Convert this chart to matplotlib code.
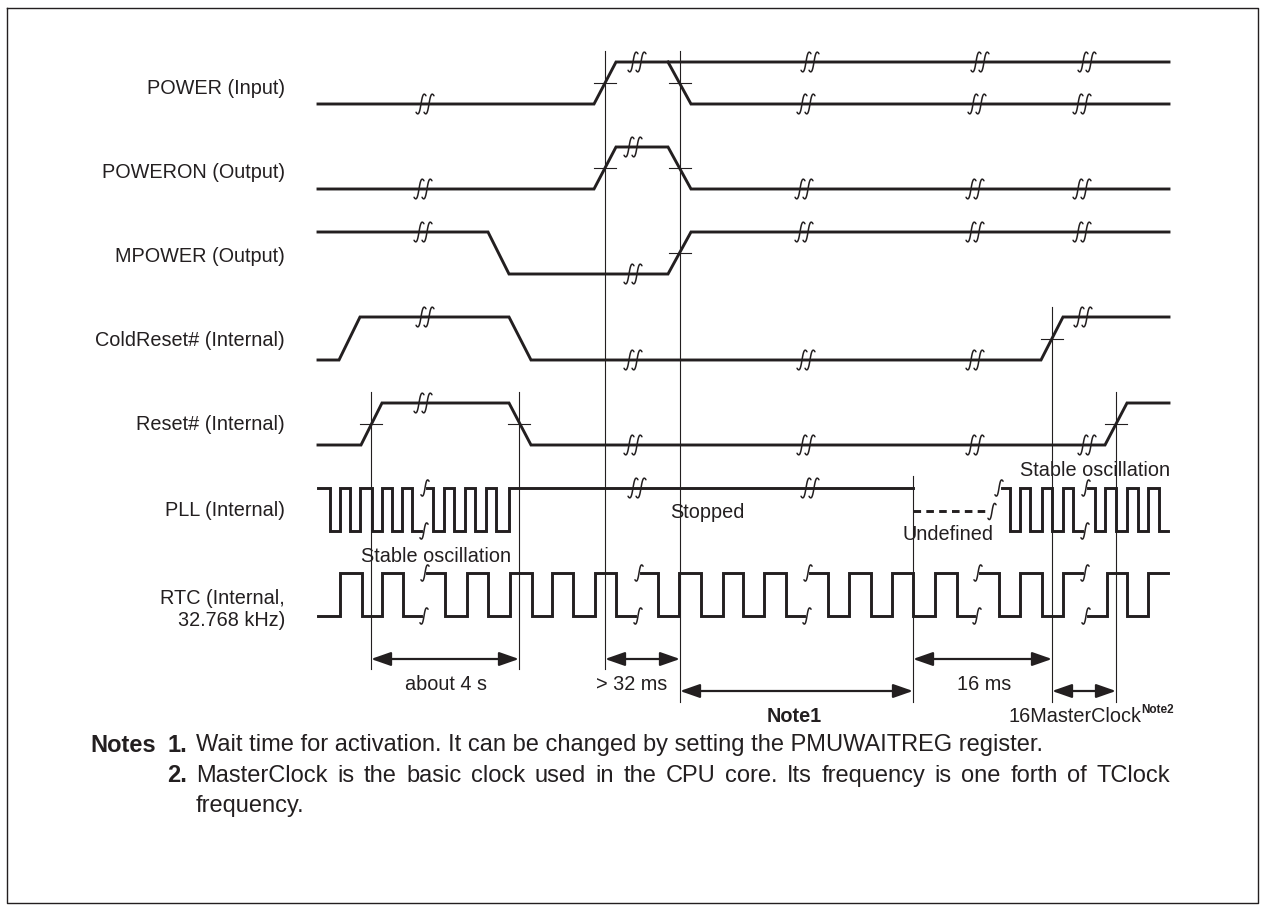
import numpy as np
import matplotlib
matplotlib.use("Agg")
import matplotlib.pyplot as plt

plt.rcParams['font.family'] = ['Liberation Sans', 'DejaVu Sans']

# ---------------- data (timing positions in px along the time axis) ----------------
signal_labels = ["POWER (Input)", "POWERON (Output)", "MPOWER (Output)",
                 "ColdReset# (Internal)", "Reset# (Internal)", "PLL (Internal)"]
rtc_label = ["RTC (Internal,", "32.768 kHz)"]
label_y = [88, 172, 256, 341, 425, 510]
rtc_label_y = [598, 620]
row_high = [62, 147, 232, 317, 403, 488, 573]
row_low = [104, 189, 274, 360, 445, 531, 616]

# level signals: time points and logic levels (0 = low, 1 = high)
power_t = [318, 594, 616, 1169]
power_lvl = [0, 0, 1, 1]
power_alt_t = [668, 691, 1169]
power_alt_lvl = [1, 0, 0]
poweron_t = [318, 594, 616, 668, 691, 1169]
poweron_lvl = [0, 0, 1, 1, 0, 0]
mpower_t = [318, 488, 509, 668, 691, 1169]
mpower_lvl = [1, 1, 0, 0, 1, 1]
coldreset_t = [318, 339, 360, 509, 531, 1041, 1063, 1169]
coldreset_lvl = [0, 0, 1, 1, 0, 0, 1, 1]
reset_t = [318, 361, 382, 509, 531, 1105, 1127, 1169]
reset_lvl = [0, 0, 1, 1, 0, 0, 1, 1]

# time-axis breaks (//) on level signals: (time, level)
power_breaks = [(425, 0), (637, 1), (810, 1), (980, 1), (1087, 1), (806, 0), (977, 0), (1082, 0)]
poweron_breaks = [(423, 0), (633, 1), (804, 0), (975, 0), (1082, 0)]
mpower_breaks = [(423, 1), (633, 0), (804, 1), (975, 1), (1082, 1)]
coldreset_breaks = [(425, 1), (633, 0), (806, 0), (975, 0), (1083, 1)]
reset_breaks = [(423, 1), (633, 0), (806, 0), (975, 0), (1087, 0)]

# clocks: edges and breaks
pll1_start, pll1_end, pll1_lvl0 = 318, 913, 1
pll1_edges = [330, 340, 350, 360, 372, 382, 392, 402, 412, 433, 444, 454, 465, 475, 486, 496, 509]
pll1_breaks = [424]
pll_stop_breaks = [637, 810]
pll_undef = [913, 990]
pll2_start, pll2_end, pll2_lvl0 = 1002, 1168, 1
pll2_edges = [1010, 1020, 1030, 1042, 1052, 1063, 1073, 1095, 1105, 1116, 1127, 1138, 1148, 1159]
pll2_breaks = [1085]

rtc_start, rtc_end, rtc_lvl0 = 318, 1168, 0
rtc_edges = [340, 362, 382, 403, 445, 467, 488, 510, 532, 552, 573, 595, 616,
             658, 679, 701, 723, 743, 764, 786, 828, 849, 871, 892, 913, 935, 957,
             999, 1020, 1042, 1063, 1107, 1127, 1148]
rtc_breaks = [424, 638, 807, 977, 1085]

# reference vertical lines
vline_x = [371, 519, 605, 680, 913, 1052, 1116]
vline_top = [392, 392, 51, 51, 476, 307, 392]
vline_bot = [669, 669, 669, 702, 702, 702, 702]
# crossing ticks: (time, row index)
cross_pts = [(605, 0), (680, 0), (605, 1), (680, 1), (680, 2), (1052, 3), (371, 4), (519, 4), (1116, 4)]

# dimension arrows
arrows = [(371, 519, 659), (605, 680, 659), (680, 913, 691), (913, 1052, 659), (1052, 1116, 691)]
arrow_labels = [("about 4 s", 446, 684, 'normal'), ("> 32 ms", 632, 684, 'normal'),
                ("Note1", 794, 717, 'bold'), ("16 ms", 984, 684, 'normal')]

note1_text = "Wait time for activation. It can be changed by setting the PMUWAITREG register."
note2_line1 = "MasterClock is the basic clock used in the CPU core.  Its frequency is one forth of TClock"
note2_line2 = "frequency."

INK = '#231f20'
FS = 14.3
FS_NOTES = 17.0
SIG_LW = 2.1

fig = plt.figure(figsize=(12.65, 9.11), dpi=100)
ax = fig.add_axes([0, 0, 1, 1])
ax.set_xlim(0, 1265)
ax.set_ylim(911, 0)
ax.axis('off')

# frame
ax.plot([7, 1258, 1258, 7, 7], [8, 8, 903, 903, 8], color=INK, lw=1.0)


def integral(xc, yc, h=9.0, lw=1.1):
    t = np.linspace(0, 1, 40)[:, None]
    P = np.array([[xc - 0.45 * h, yc + 0.75 * h], [xc + 0.05 * h, yc + 1.6 * h],
                  [xc - 0.05 * h, yc - 1.6 * h], [xc + 0.45 * h, yc - 0.75 * h]])
    B = ((1 - t) ** 3) * P[0] + 3 * ((1 - t) ** 2) * t * P[1] + 3 * (1 - t) * t ** 2 * P[2] + t ** 3 * P[3]
    ax.plot(B[:, 0], B[:, 1], color=INK, lw=lw, solid_capstyle='round', zorder=4)


def double_break(x, y):
    integral(x - 4, y, h=11)
    integral(x + 4, y, h=11)


def yl(row, lvl):
    return row_low[row] - lvl * (row_low[row] - row_high[row])


def level_signal(row, ts, lv):
    ax.plot(ts, [yl(row, v) for v in lv], color=INK, lw=SIG_LW, solid_joinstyle='miter', zorder=3)


def clock(row, start, end, lvl0, edges, breaks, gap=3):
    events = sorted([(e, 0) for e in edges] + [(b, 1) for b in breaks])
    lvl = lvl0
    xs, ys = [start], [yl(row, lvl)]
    for x, kind in events:
        if kind == 0:
            xs += [x, x]
            ys += [yl(row, lvl), yl(row, 1 - lvl)]
            lvl = 1 - lvl
        else:
            xs.append(x - gap); ys.append(yl(row, lvl))
            ax.plot(xs, ys, color=INK, lw=SIG_LW, solid_joinstyle='miter', zorder=3)
            integral(x, yl(row, lvl))
            lvl = 1 - lvl
            integral(x + 1, yl(row, lvl))
            xs, ys = [x + gap], [yl(row, lvl)]
    xs.append(end); ys.append(yl(row, lvl))
    ax.plot(xs, ys, color=INK, lw=SIG_LW, solid_joinstyle='miter', zorder=3)


# level signals
level_signal(0, power_t, power_lvl)
level_signal(0, power_alt_t, power_alt_lvl)
level_signal(1, poweron_t, poweron_lvl)
level_signal(2, mpower_t, mpower_lvl)
level_signal(3, coldreset_t, coldreset_lvl)
level_signal(4, reset_t, reset_lvl)
for row, brks in enumerate([power_breaks, poweron_breaks, mpower_breaks, coldreset_breaks, reset_breaks]):
    for x, lv in brks:
        double_break(x, yl(row, lv))

# PLL
clock(5, pll1_start, pll1_end, pll1_lvl0, pll1_edges, pll1_breaks)
for x in pll_stop_breaks:
    double_break(x, yl(5, 1))
ymid = (row_high[5] + row_low[5]) / 2
ax.plot(pll_undef, [ymid + 1, ymid + 1], color=INK, lw=SIG_LW, ls=(0, (2.6, 1.8)), zorder=3)
integral(pll_undef[1] + 2, ymid + 2)
integral(pll2_start - 3, yl(5, 1))
clock(5, pll2_start, pll2_end, pll2_lvl0, pll2_edges, pll2_breaks)

# RTC
clock(6, rtc_start, rtc_end, rtc_lvl0, rtc_edges, rtc_breaks)

# vertical reference lines
for x, t0, t1 in zip(vline_x, vline_top, vline_bot):
    ax.plot([x, x], [t0, t1], color=INK, lw=0.8, zorder=2)
for x, row in cross_pts:
    ym = (row_high[row] + row_low[row]) / 2
    ax.plot([x - 11, x + 11], [ym, ym], color=INK, lw=0.8, zorder=2)

# arrows
for x0, x1, y in arrows:
    ax.annotate('', xy=(x1, y), xytext=(x0, y),
                arrowprops=dict(arrowstyle='<|-|>,head_length=1.2,head_width=0.42',
                                color=INK, lw=1.6, shrinkA=0, shrinkB=0, mutation_scale=10))
for txt, x, y, w in arrow_labels:
    ax.text(x, y, txt, ha='center', va='center', fontsize=FS, color=INK, weight=w)
mc = ax.text(1009, 717, "16MasterClock", ha='left', va='center', fontsize=FS, color=INK)

# signal labels
for txt, y in zip(signal_labels, label_y):
    ax.text(285, y, txt, ha='right', va='center', fontsize=FS, color=INK)
for txt, y in zip(rtc_label, rtc_label_y):
    ax.text(285, y, txt, ha='right', va='center', fontsize=FS, color=INK)

# in-diagram annotations
ax.text(361, 556, "Stable oscillation", ha='left', va='center', fontsize=FS, color=INK)
ax.text(1020, 470, "Stable oscillation", ha='left', va='center', fontsize=FS, color=INK)
ax.text(670, 513, "Stopped", ha='left', va='center', fontsize=FS, color=INK)
ax.text(903, 535, "Undefined", ha='left', va='center', fontsize=FS, color=INK)

# notes
ax.text(90, 745, "Notes", ha='left', va='center', fontsize=FS_NOTES, color=INK, weight='bold')
ax.text(187, 745, "1.", ha='right', va='center', fontsize=FS_NOTES, color=INK, weight='bold')
ax.text(196, 745, note1_text, ha='left', va='center', fontsize=FS_NOTES, color=INK)
ax.text(187, 776, "2.", ha='right', va='center', fontsize=FS_NOTES, color=INK, weight='bold')
ax.text(196, 806, note2_line2, ha='left', va='center', fontsize=FS_NOTES, color=INK)

# justified line for note 2
fig.canvas.draw()
renderer = fig.canvas.get_renderer()
inv = ax.transData.inverted()
words = note2_line1.split()
word_objs = [ax.text(0, 776, w, ha='left', va='center', fontsize=FS_NOTES, color=INK) for w in words]
widths = []
for t in word_objs:
    b = t.get_window_extent(renderer)
    widths.append(inv.transform((b.x1, 0))[0] - inv.transform((b.x0, 0))[0])
x_left, x_right = 196, 1170
gapw = (x_right - x_left - sum(widths)) / (len(words) - 1)
xc = x_left
for t, w in zip(word_objs, widths):
    t.set_x(xc)
    xc += w + gapw

bb = mc.get_window_extent(renderer)
x_end = inv.transform((bb.x1, bb.y1))[0]
ax.text(x_end - 1, 710, "Note2", ha='left', va='center', fontsize=8.5, color=INK, weight='bold')

fig.savefig("out.png", dpi=100)
